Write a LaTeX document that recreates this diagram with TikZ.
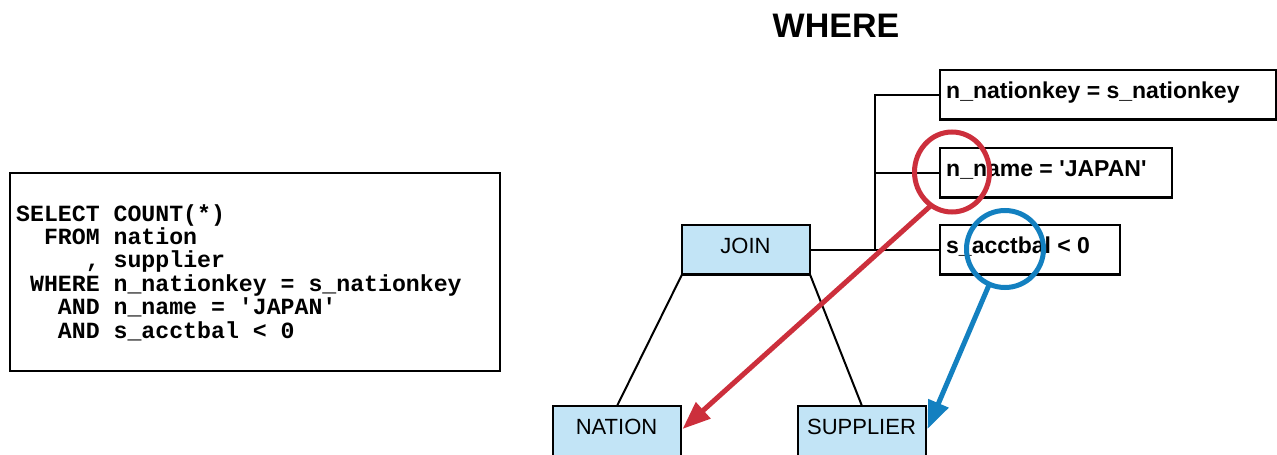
\documentclass[tikz,border=0pt]{standalone}
\usepackage{fontspec}
\setmainfont{Liberation Sans}
\newfontfamily\sqlfont{Liberation Mono}
\usetikzlibrary{arrows.meta,shapes.geometric}
\definecolor{tblue}{HTML}{C2E4F6}
\definecolor{hred}{HTML}{CC2F3C}
\definecolor{hblue}{HTML}{1380C0}
\newcommand\blank{\hphantom{x}}
\begin{document}
\begin{tikzpicture}[x=1pt,y=-1pt,
  box/.style={draw, line width=2.5pt, inner sep=0pt, outer sep=0pt, anchor=north west, minimum height=49.5pt},
  tbl/.style={box, fill=tblue, minimum width=128pt},
  cond/.style={box, fill=white},
  ttxt/.style={inner sep=0pt, font=\fontsize{22}{26}\selectfont},
  ctxt/.style={inner sep=0pt, anchor=base west, font=\bfseries\fontsize{23}{28}\selectfont},
  sql/.style={inner sep=0pt, anchor=base west, font=\sqlfont\bfseries\fontsize{23.2}{28}\selectfont},
  edge/.style={line width=2pt},
  bus/.style={line width=2.5pt},
  hl/.style={line width=5pt},
  tip/.style={-{Triangle[length=28pt,width=21pt]}}]
\useasboundingbox (0,0) rectangle (1277,455);
% SQL box
\node[box, minimum width=490pt, minimum height=198pt] (sqlbox) at (10,173) {};
\node[sql] (l1) at (16,221.0) {SELECT\blank COUNT(*)};
\node[sql] (l2) at (16,244.4) {\blank\blank FROM\blank nation};
\node[sql] (l3) at (16,267.8) {\blank\blank\blank\blank\blank,\blank supplier};
\node[sql] (l4) at (16,291.2) {\blank WHERE\blank n\_nationkey\blank =\blank s\_nationkey};
\node[sql] (l5) at (16,314.6) {\blank\blank\blank AND\blank n\_name\blank =\blank 'JAPAN'};
\node[sql] (l6) at (16,338.0) {\blank\blank\blank AND\blank s\_acctbal\blank <\blank 0};
% title
\node[inner sep=0pt, font=\bfseries\fontsize{34}{40}\selectfont] (title) at (836,26) {WHERE};
% tree
\node[tbl] (join) at (682,225) {};
\node[ttxt] (joint) at (745.5,245.5) {JOIN};
\node[tbl, minimum height=54pt] (nation) at (553,406) {};
\node[ttxt] (nationt) at (616.5,426.5) {NATION};
\node[tbl, minimum height=54pt] (supplier) at (798,406) {};
\node[ttxt] (suppliert) at (861.5,426.5) {SUPPLIER};
% conditions
\node[cond, minimum width=336pt] (c1) at (940,70) {};
\node[ctxt] (c1t) at (946,98) {n\_nationkey = s\_nationkey};
\node[cond, minimum width=232pt] (c2) at (940,148) {};
\node[ctxt] (c2t) at (946,176) {n\_name = \textquotesingle JAPAN\textquotesingle};
\node[cond, minimum width=180pt] (c3) at (940,225) {};
\node[ctxt] (c3t) at (946,253) {s\_acctbal < 0};
\coordinate (bus) at (875,249.75);
\draw[bus] (join.east) -- (c3.west);
\draw[bus] (c1.west) -| (bus);
\draw[bus] (c2.west) -- (c2.west -| bus);
\draw[edge] (join.south west) -- (nation.north);
\draw[edge] (join.south east) -- (supplier.north);
% highlights
\node[ellipse, draw=hred, hl, minimum width=75pt, minimum height=80pt, inner sep=0pt, outer sep=0pt] (rc) at (952,172) {};
\node[circle, draw=hblue, hl, minimum size=77pt, inner sep=0pt, outer sep=0pt] (bc) at (1005,249) {};
\draw[hl, hred, tip] (rc.238) -- ([xshift=1.5pt,yshift=4pt]nation.east);
\draw[hl, hblue, tip] (bc.246) -- ([xshift=1.5pt,yshift=4pt]supplier.east);
\end{tikzpicture}
\end{document}
